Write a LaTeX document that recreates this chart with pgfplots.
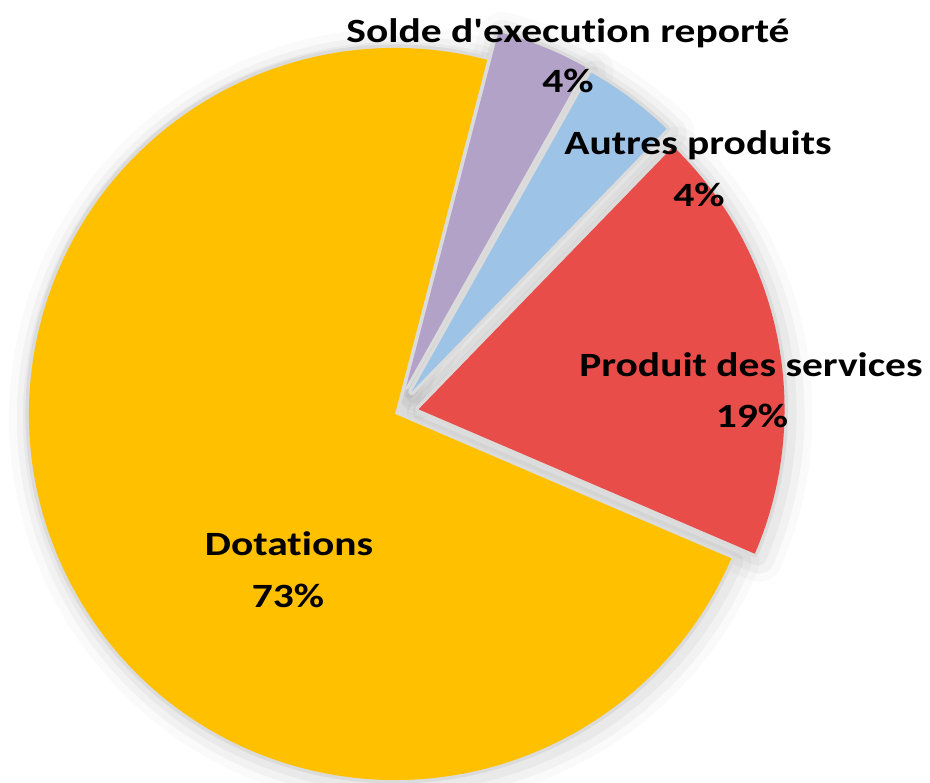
\documentclass[border=0pt]{standalone}
\usepackage{pgfplots}
\usepackage{pgfplotstable}
\pgfplotsset{compat=1.18}
\usepackage{fontspec}
\setmainfont{Carlito}[Ligatures={TeX,NoCommon}]

\definecolor{cYellow}{HTML}{FFC000}
\definecolor{cRed}{HTML}{E84D4A}
\definecolor{cBlue}{HTML}{9DC3E6}
\definecolor{cPurple}{HTML}{B3A2C7}

\pgfplotstableread{
label value explode color
Dotations 72.6 0 cYellow
{Produit des services} 19.2 24 cRed
{Autres produits} 4.1 28 cBlue
{Solde d'execution reporté} 4.1 30 cPurple
}\piedata

% #1 = drawing options for each slice, #2 = shift (px)
\newcommand\pieslices[2][0]{%
  \gdef\cum{75.4}%
  \foreach \i in {0,...,3}{%
    \pgfplotstablegetelem{\i}{value}\of\piedata \edef\v{\pgfplotsretval}%
    \pgfplotstablegetelem{\i}{explode}\of\piedata \edef\ex{\pgfplotsretval}%
    \pgfplotstablegetelem{\i}{color}\of\piedata \edef\col{\pgfplotsretval}%
    \pgfmathsetmacro\aA{\cum}%
    \pgfmathsetmacro\aB{\cum+3.6*\v}%
    \pgfmathsetmacro\am{(\aA+\aB)/2}%
    \pgfmathsetmacro\ox{395+#1+\ex*cos(\am)}%
    \pgfmathsetmacro\oy{368-#1+\ex*sin(\am)}%
    \path[#2] (axis cs:\ox,\oy) -- ++(\aA:183pt)
      arc[start angle=\aA, end angle=\aB, radius=183pt] -- cycle;
    \xdef\cum{\aB}%
  }%
}

\begin{document}
\begin{tikzpicture}
\begin{axis}[
  scale only axis, width=465pt, height=391pt,
  xmin=0, xmax=930, ymin=0, ymax=782,
  hide axis,
]
\path (rel axis cs:0,0) rectangle (rel axis cs:1,1);
\pgfplotsextra{%
  \pieslices[4]{draw=black, draw opacity=0.02, line width=24pt, line join=round}
  \pieslices[4]{draw=black, draw opacity=0.03, line width=16pt, line join=round}
  \pieslices[3]{draw=black, draw opacity=0.04, line width=9pt, line join=round}
  \pieslices{draw=gray!28, fill=gray!28, line width=3.5pt, line join=round}
  \pieslices{fill=\col}
}
\tikzset{lbl/.style={anchor=base, xscale=1.22, font=\fontsize{17}{20}\selectfont\bfseries, inner sep=0pt}}
\node[lbl] at (axis cs:568,739) {Solde d\textquotesingle execution reporté};
\node[lbl] at (axis cs:568,689) {4\%};
\node[lbl] at (axis cs:698,627) {Autres produits};
\node[lbl] at (axis cs:699,575) {4\%};
\node[lbl] at (axis cs:751,405) {Produit des services};
\node[lbl] at (axis cs:752,354) {19\%};
\node[lbl] at (axis cs:289,227) {Dotations};
\node[lbl] at (axis cs:288,175) {73\%};
\end{axis}
\end{tikzpicture}
\end{document}
